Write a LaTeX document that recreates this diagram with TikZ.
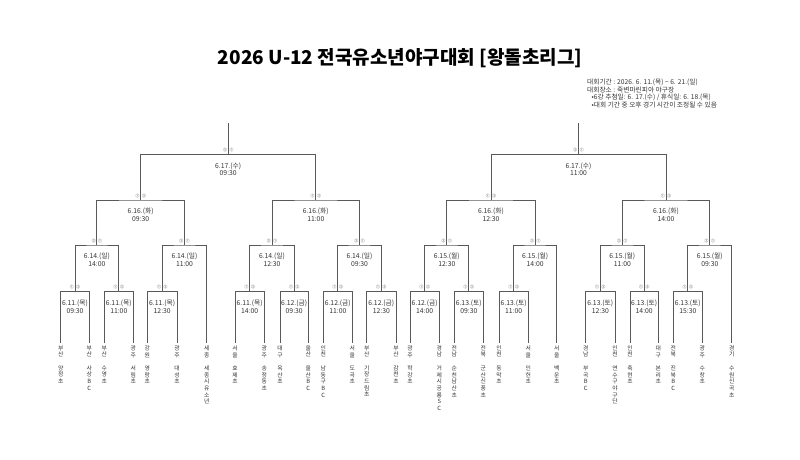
\documentclass[tikz,border=0pt]{standalone}
\usepackage{fontspec}
\setmainfont{Noto Sans CJK KR}
\usepackage{tikz}
\usetikzlibrary{positioning}

\begin{document}
\begin{tikzpicture}[x=1pt, y=-1pt]
  \useasboundingbox (0,0) rectangle (800,460);

  \tikzset{bracket_line/.style={draw=black!65, line width=0.9pt}}
  \tikzset{team_name/.style={anchor=north, align=center, inner sep=0pt, outer xsep=0pt, outer ysep=2.5pt, text=black!80, font=\fontsize{5.8}{6.7}\selectfont}}
  \tikzset{game_day/.style={align=center, inner sep=0pt, text=black!80, font=\fontsize{6.8}{7.7}\selectfont}}
  \tikzset{dugout/.style={inner sep=0pt, text=black!70, font=\fontsize{3.8}{4}\selectfont}}

  \node[font=\fontsize{19}{22}\selectfont\bfseries] (title) at (400,58) {2026 U-12 전국유소년야구대회 [왕돌초리그]};
  \node[anchor=north west, align=left, inner sep=0pt, text=black!80, font=\fontsize{6.7}{7.6}\selectfont] (info) at (587,78.8)
    {대회기간 : 2026. 6. 11.(목) \textasciitilde{} 6. 21.(일)\\대회장소 : 죽변마린피아 야구장\\\hspace*{4.5pt}•6강 추첨일: 6. 17.(수) / 휴식일: 6. 18.(목)\\\hspace*{4.5pt}•대회 기간 중 오후 경기 시간이 조정될 수 있음};

  \node[team_name] (n1) at (60.7,343) {부\\산\\[6.7pt]양\\정\\초};
  \node[team_name] (n2) at (89.3,343) {부\\산\\[6.7pt]사\\상\\B\\C};
  \node[team_name] (n3) at (104.3,343) {부\\산\\[6.7pt]수\\영\\초};
  \node[team_name] (n4) at (133.3,343) {광\\주\\[6.7pt]서\\림\\초};
  \node[team_name] (n5) at (147.3,343) {강\\원\\[6.7pt]영\\랑\\초};
  \node[team_name] (n6) at (177,343) {광\\주\\[6.7pt]대\\성\\초};
  \node[team_name] (n7) at (206.7,343) {세\\종\\[6.7pt]세\\종\\시\\유\\소\\년};
  \node[team_name] (n8) at (235,343) {서\\울\\[6.7pt]효\\제\\초};
  \node[team_name] (n9) at (264.3,343) {광\\주\\[6.7pt]송\\정\\동\\초};
  \node[team_name] (n10) at (280,343) {대\\구\\[6.7pt]옥\\산\\초};
  \node[team_name] (n11) at (308.3,343) {울\\산\\[6.7pt]울\\산\\B\\C};
  \node[team_name] (n12) at (323.3,343) {인\\천\\[6.7pt]남\\동\\구\\B\\C};
  \node[team_name] (n13) at (352.3,343) {서\\울\\[6.7pt]도\\곡\\초};
  \node[team_name] (n14) at (366.7,343) {부\\산\\[6.7pt]기\\장\\드\\림\\초};
  \node[team_name] (n15) at (396,343) {부\\산\\[6.7pt]감\\천\\초};
  \node[team_name] (n16) at (410,343) {광\\주\\[6.7pt]학\\강\\초};
  \node[team_name] (n17) at (439.3,343) {경\\남\\[6.7pt]거\\제\\시\\공\\룡\\S\\C};
  \node[team_name] (n18) at (454.3,343) {전\\남\\[6.7pt]순\\천\\남\\산\\초};
  \node[team_name] (n19) at (483.3,343) {전\\북\\[6.7pt]군\\산\\신\\풍\\초};
  \node[team_name] (n20) at (499,343) {인\\천\\[6.7pt]동\\막\\초};
  \node[team_name] (n21) at (528.3,343) {서\\울\\[6.7pt]인\\헌\\초};
  \node[team_name] (n22) at (556.7,343) {서\\울\\[6.7pt]백\\운\\초};
  \node[team_name] (n23) at (585.7,343) {경\\남\\[6.7pt]부\\곡\\B\\C};
  \node[team_name] (n24) at (615,343) {인\\천\\[6.7pt]연\\수\\구\\야\\구\\단};
  \node[team_name] (n25) at (630,343) {인\\천\\[6.7pt]축\\현\\초};
  \node[team_name] (n26) at (658.3,343) {대\\구\\[6.7pt]본\\리\\초};
  \node[team_name] (n27) at (673.3,343) {전\\북\\[6.7pt]진\\북\\B\\C};
  \node[team_name] (n28) at (702.3,343) {광\\주\\[6.7pt]수\\창\\초};
  \node[team_name] (n29) at (731.7,343) {경\\기\\[6.7pt]수\\원\\신\\곡\\초};

  \coordinate (a1) at (75,291.7);
  \coordinate (a2) at (118.8,291.7);
  \coordinate (a3) at (162.2,291.7);
  \coordinate (a4) at (249.7,291.7);
  \coordinate (a5) at (294.2,291.7);
  \coordinate (a6) at (337.8,291.7);
  \coordinate (a7) at (381.3,291.7);
  \coordinate (a8) at (424.7,291.7);
  \coordinate (a9) at (468.8,291.7);
  \coordinate (a10) at (513.7,291.7);
  \coordinate (a11) at (600.3,291.7);
  \coordinate (a12) at (644.2,291.7);
  \coordinate (a13) at (687.8,291.7);
  \coordinate (b1) at (96.9,245);
  \coordinate (b2) at (184.5,245);
  \coordinate (b3) at (272,245);
  \coordinate (b4) at (359.5,245);
  \coordinate (b5) at (446.8,245);
  \coordinate (b6) at (535.2,245);
  \coordinate (b7) at (622.3,245);
  \coordinate (b8) at (709.8,245);
  \coordinate (c1) at (140.7,200);
  \coordinate (c2) at (315.8,200);
  \coordinate (c3) at (491,200);
  \coordinate (c4) at (666,200);
  \coordinate (d1) at (228.2,154.3);
  \coordinate (d2) at (578.5,154.3);
  \coordinate (top1) at (228.2,123);
  \coordinate (top2) at (578.5,123);

  \draw[bracket_line] (n1) |- (a1) -| (n2);
  \draw[bracket_line] (n3) |- (a2) -| (n4);
  \draw[bracket_line] (n5) |- (a3) -| (n6);
  \draw[bracket_line] (n8) |- (a4) -| (n9);
  \draw[bracket_line] (n10) |- (a5) -| (n11);
  \draw[bracket_line] (n12) |- (a6) -| (n13);
  \draw[bracket_line] (n14) |- (a7) -| (n15);
  \draw[bracket_line] (n16) |- (a8) -| (n17);
  \draw[bracket_line] (n18) |- (a9) -| (n19);
  \draw[bracket_line] (n20) |- (a10) -| (n21);
  \draw[bracket_line] (n23) |- (a11) -| (n24);
  \draw[bracket_line] (n25) |- (a12) -| (n26);
  \draw[bracket_line] (n27) |- (a13) -| (n28);
  \draw[bracket_line] (a1) |- (b1) -| (a2);
  \draw[bracket_line] (a3) |- (b2) -| (n7);
  \draw[bracket_line] (a4) |- (b3) -| (a5);
  \draw[bracket_line] (a6) |- (b4) -| (a7);
  \draw[bracket_line] (a8) |- (b5) -| (a9);
  \draw[bracket_line] (a10) |- (b6) -| (n22);
  \draw[bracket_line] (a11) |- (b7) -| (a12);
  \draw[bracket_line] (a13) |- (b8) -| (n29);
  \draw[bracket_line] (b1) |- (c1) -| (b2);
  \draw[bracket_line] (b3) |- (c2) -| (b4);
  \draw[bracket_line] (b5) |- (c3) -| (b6);
  \draw[bracket_line] (b7) |- (c4) -| (b8);
  \draw[bracket_line] (c1) |- (d1) -| (c2);
  \draw[bracket_line] (c3) |- (d2) -| (c4);
  \draw[bracket_line] (top1) -- (d1);
  \draw[bracket_line] (top2) -- (d2);

  \node[game_day, below=8pt of a1] (a1d) {6.11.(목)\\09:30};
  \node[game_day, below=8pt of a2] (a2d) {6.11.(목)\\11:00};
  \node[game_day, below=8pt of a3] (a3d) {6.11.(목)\\12:30};
  \node[game_day, below=8pt of a4] (a4d) {6.11.(목)\\14:00};
  \node[game_day, below=8pt of a5] (a5d) {6.12.(금)\\09:30};
  \node[game_day, below=8pt of a6] (a6d) {6.12.(금)\\11:00};
  \node[game_day, below=8pt of a7] (a7d) {6.12.(금)\\12:30};
  \node[game_day, below=8pt of a8] (a8d) {6.12.(금)\\14:00};
  \node[game_day, below=8pt of a9] (a9d) {6.13.(토)\\09:30};
  \node[game_day, below=8pt of a10] (a10d) {6.13.(토)\\11:00};
  \node[game_day, below=8pt of a11] (a11d) {6.13.(토)\\12:30};
  \node[game_day, below=8pt of a12] (a12d) {6.13.(토)\\14:00};
  \node[game_day, below=8pt of a13] (a13d) {6.13.(토)\\15:30};
  \node[game_day, below=8pt of b1] (b1d) {6.14.(일)\\14:00};
  \node[game_day, below=8pt of b2] (b2d) {6.14.(일)\\11:00};
  \node[game_day, below=8pt of b3] (b3d) {6.14.(일)\\12:30};
  \node[game_day, below=8pt of b4] (b4d) {6.14.(일)\\09:30};
  \node[game_day, below=8pt of b5] (b5d) {6.15.(월)\\12:30};
  \node[game_day, below=8pt of b6] (b6d) {6.15.(월)\\14:00};
  \node[game_day, below=8pt of b7] (b7d) {6.15.(월)\\11:00};
  \node[game_day, below=8pt of b8] (b8d) {6.15.(월)\\09:30};
  \node[game_day, below=8pt of c1] (c1d) {6.16.(화)\\09:30};
  \node[game_day, below=8pt of c2] (c2d) {6.16.(화)\\11:00};
  \node[game_day, below=8pt of c3] (c3d) {6.16.(화)\\12:30};
  \node[game_day, below=8pt of c4] (c4d) {6.16.(화)\\14:00};
  \node[game_day, below=8pt of d1] (d1d) {6.17.(수)\\09:30};
  \node[game_day, below=8pt of d2] (d2d) {6.17.(수)\\11:00};

  \node[dugout, above=2.4pt of a1] (a1s) {①\hspace{2.6pt}③};
  \node[dugout, above=2.4pt of a2] (a2s) {①\hspace{2.6pt}③};
  \node[dugout, above=2.4pt of a3] (a3s) {①\hspace{2.6pt}③};
  \node[dugout, above=2.4pt of a4] (a4s) {①\hspace{2.6pt}③};
  \node[dugout, above=2.4pt of a5] (a5s) {①\hspace{2.6pt}③};
  \node[dugout, above=2.4pt of a6] (a6s) {①\hspace{2.6pt}③};
  \node[dugout, above=2.4pt of a7] (a7s) {①\hspace{2.6pt}③};
  \node[dugout, above=2.4pt of a8] (a8s) {①\hspace{2.6pt}③};
  \node[dugout, above=2.4pt of a9] (a9s) {①\hspace{2.6pt}③};
  \node[dugout, above=2.4pt of a10] (a10s) {①\hspace{2.6pt}③};
  \node[dugout, above=2.4pt of a11] (a11s) {①\hspace{2.6pt}③};
  \node[dugout, above=2.4pt of a12] (a12s) {①\hspace{2.6pt}③};
  \node[dugout, above=2.4pt of a13] (a13s) {①\hspace{2.6pt}③};
  \node[dugout, above=2.4pt of b1] (b1s) {③\hspace{2.6pt}①};
  \node[dugout, above=2.4pt of b2] (b2s) {③\hspace{2.6pt}①};
  \node[dugout, above=2.4pt of b3] (b3s) {③\hspace{2.6pt}①};
  \node[dugout, above=2.4pt of b4] (b4s) {③\hspace{2.6pt}①};
  \node[dugout, above=2.4pt of b5] (b5s) {③\hspace{2.6pt}①};
  \node[dugout, above=2.4pt of b6] (b6s) {③\hspace{2.6pt}①};
  \node[dugout, above=2.4pt of b7] (b7s) {③\hspace{2.6pt}①};
  \node[dugout, above=2.4pt of b8] (b8s) {③\hspace{2.6pt}①};
  \node[dugout, above=2.4pt of c1] (c1s) {①\hspace{2.6pt}③};
  \node[dugout, above=2.4pt of c2] (c2s) {①\hspace{2.6pt}③};
  \node[dugout, above=2.4pt of c3] (c3s) {①\hspace{2.6pt}③};
  \node[dugout, above=2.4pt of c4] (c4s) {①\hspace{2.6pt}③};
  \node[dugout, above=2.4pt of d1] (d1s) {③\hspace{2.6pt}①};
  \node[dugout, above=2.4pt of d2] (d2s) {③\hspace{2.6pt}①};
\end{tikzpicture}
\end{document}
